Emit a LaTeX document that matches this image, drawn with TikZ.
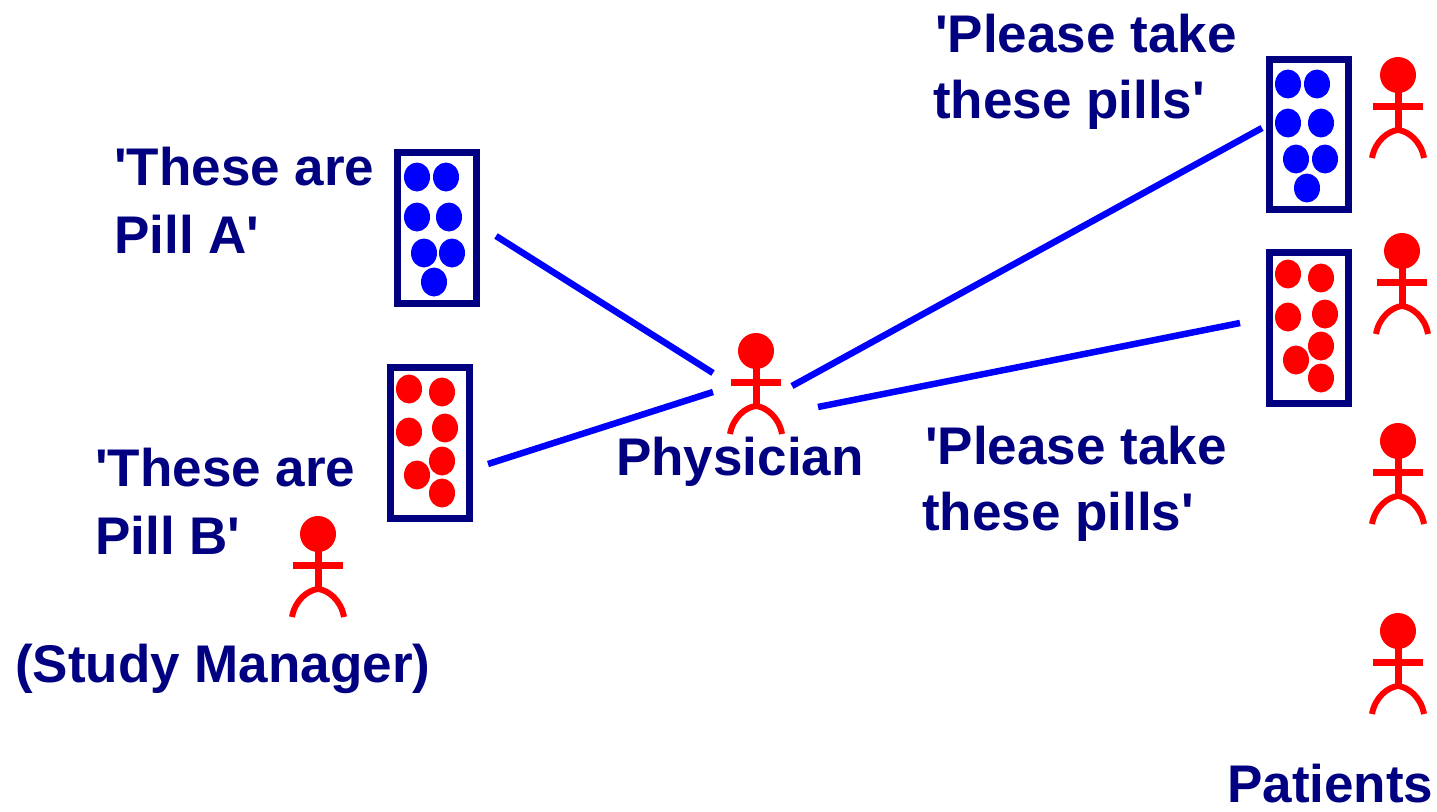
\documentclass[tikz,border=0pt]{standalone}
\usepackage{fontspec}
\setmainfont{Liberation Sans}[Ligatures=TeXOff]
\definecolor{navyc}{RGB}{0,0,128}
\definecolor{bluec}{RGB}{0,0,255}
\definecolor{redc}{RGB}{255,0,0}
\tikzset{
  lbl/.style={anchor=base west, inner sep=0pt, text=navyc, font=\fontsize{53}{64}\selectfont\bfseries},
  pillbox/.style={draw=navyc, line width=7pt, minimum width=79pt, inner sep=0pt, fill=white},
  bpill/.style={fill=bluec},
  rpill/.style={fill=redc},
  conn/.style={draw=bluec, line width=6.5pt},
  stick/.pic={
    \node[circle, fill=redc, minimum size=36pt, inner sep=0pt] (-head) at (0,0) {};
    \draw[redc, line width=7pt] (0,16) -- (0,57);
    \draw[redc, line width=7pt] (-25,31) -- (25,31);
    \draw[redc, line width=6pt] (-26,83) .. controls (-23,66) and (-10,56) .. (0,55)
                                 .. controls (10,56) and (23,66) .. (26,83);
  }
}
\begin{document}
\begin{tikzpicture}[x=1pt,y=-1pt]
\useasboundingbox[fill=white] (0,0) rectangle (1437,811);

% pill boxes
\node[pillbox, minimum height=151pt] (boxA) at (437,228) {};
\node[pillbox, minimum height=151pt] (boxB) at (430,443) {};
\node[pillbox, minimum height=150pt] (boxC) at (1309,134.5) {};
\node[pillbox, minimum height=151pt] (boxD) at (1309,328) {};

% pills
\foreach \px/\py in {417/177,446/177,417/217,449/217,424/253,452/253,434/282}
  \fill[bpill] (\px,\py) ellipse [x radius=13pt, y radius=14.5pt];
\foreach \px/\py in {409/389,442/392,409/432,445/428,442/461,417/475,442/493}
  \fill[rpill] (\px,\py) ellipse [x radius=13pt, y radius=14.5pt];
\foreach \px/\py in {1288/84,1317/84,1288/123,1321/123,1296/159,1325/159,1307/188}
  \fill[bpill] (\px,\py) ellipse [x radius=13pt, y radius=14.5pt];
\foreach \px/\py in {1288/274,1321/278,1288/317,1325/314,1321/346,1296/360,1321/378}
  \fill[rpill] (\px,\py) ellipse [x radius=13pt, y radius=14.5pt];

% stick figures
\pic (phys) at (756,351) {stick};
\pic (mgr) at (318,534) {stick};
\pic (pat1) at (1398,75) {stick};
\pic (pat2) at (1402,251) {stick};
\pic (pat3) at (1398,441) {stick};
\pic (pat4) at (1398,631) {stick};

% connector ends
\coordinate (lA) at (496,236);
\coordinate (pA) at (713,373);
\coordinate (lB) at (488,464);
\coordinate (pB) at (713,392);
\coordinate (pC) at (792,386);
\coordinate (rC) at (1262,128);
\coordinate (pD) at (818,407);
\coordinate (rD) at (1240,323);
\draw[conn] (lA) -- (pA);
\draw[conn] (lB) -- (pB);
\draw[conn] (pC) -- (rC);
\draw[conn] (pD) -- (rD);

% labels
\node[lbl] (tA1) at (114,185) {'These are};
\node[lbl] (tA2) at (114,253) {Pill A'};
\node[lbl] (tB1) at (95,486) {'These are};
\node[lbl] (tB2) at (95,554) {Pill B'};
\node[lbl] (tM) at (15,682) {(Study Manager)};
\node[lbl] (tP) at (616,475) {Physician};
\node[lbl] (tC1) at (935,52) {'Please take};
\node[lbl] (tC2) at (933,118) {these pills'};
\node[lbl] (tD1) at (925,464) {'Please take};
\node[lbl] (tD2) at (922,530) {these pills'};
\node[lbl] (tPat) at (1227,802) {Patients};
\end{tikzpicture}
\end{document}
